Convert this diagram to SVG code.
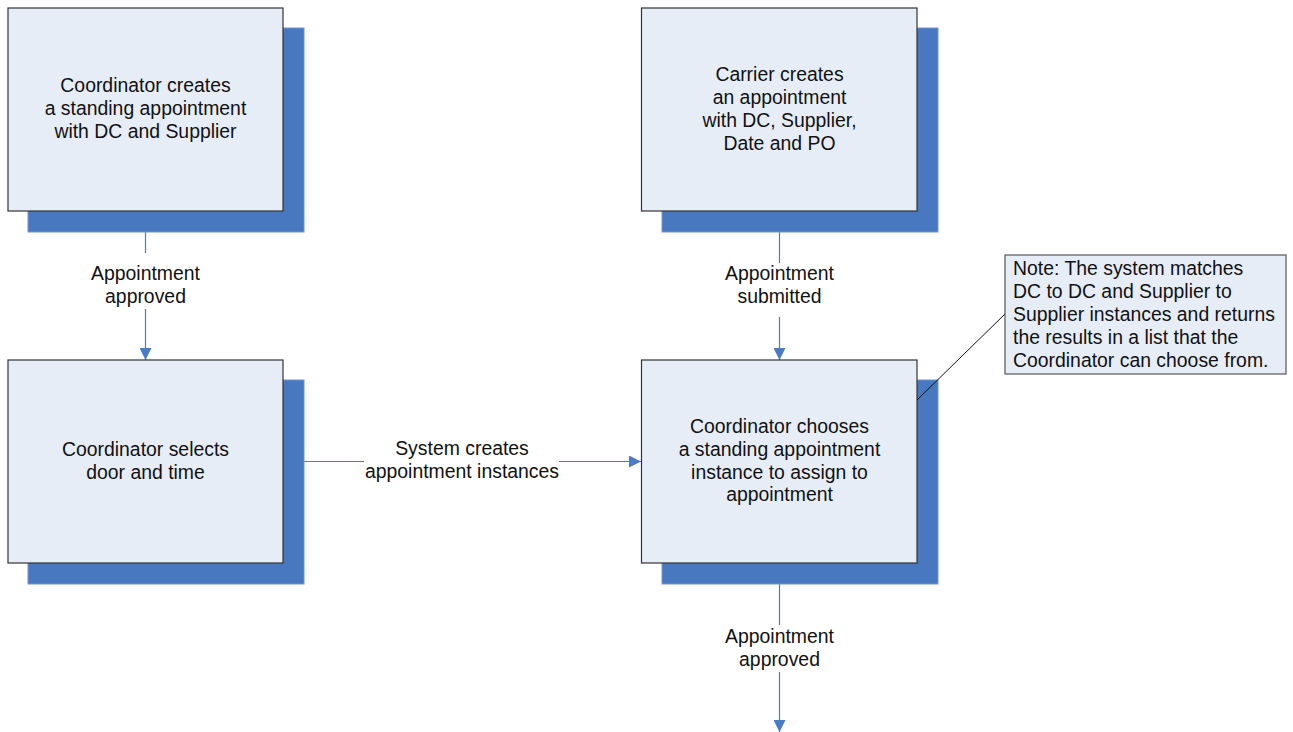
<svg xmlns="http://www.w3.org/2000/svg" width="1293" height="732" viewBox="0 0 1293 732">
<style>
.shadow{fill:#4878C0;stroke:#6F95CF;stroke-width:1}
.box{fill:#E7EDF7;stroke:#333333;stroke-width:1.2}
.note{fill:#E7EDF7;stroke:#555555;stroke-width:1.2}
text{font-family:"Liberation Sans",Arial,sans-serif;font-size:19.4px;fill:#111111}
.c{text-anchor:middle}
.conn{stroke:#4A7CC4;stroke-width:1.2;fill:none}
</style>
<defs>
<marker id="arr" viewBox="0 0 12 12" refX="12" refY="6" markerWidth="12" markerHeight="12" markerUnits="userSpaceOnUse" orient="auto">
<path d="M0,0 L12,6 L0,12 Z" fill="#4A7CC4"/>
</marker>
</defs>
<rect width="1293" height="732" fill="#FFFFFF"/>
<g id="connectors">
<path class="conn" d="M145.5,232 V253"/>
<path class="conn" d="M145.5,309 V360" marker-end="url(#arr)"/>
<path class="conn" d="M779.5,232 V263"/>
<path class="conn" d="M779.5,317 V360" marker-end="url(#arr)"/>
<path class="conn" d="M283,461.5 H364"/>
<path class="conn" d="M559,461.5 H641" marker-end="url(#arr)"/>
<path class="conn" d="M779.5,584 V625"/>
<path class="conn" d="M779.5,672 V732" marker-end="url(#arr)"/>
<text class="c" x="145.5" y="280">Appointment</text>
<text class="c" x="145.5" y="303">approved</text>
<text class="c" x="779.5" y="280">Appointment</text>
<text class="c" x="779.5" y="303">submitted</text>
<text class="c" x="462" y="455">System creates</text>
<text class="c" x="462" y="478">appointment instances</text>
<text class="c" x="779.5" y="643">Appointment</text>
<text class="c" x="779.5" y="666">approved</text>
</g>
<g id="node1">
<rect class="shadow" x="28" y="28" width="276" height="204"/>
<rect class="box" x="8" y="8" width="275" height="203"/>
<text class="c" x="145.5" y="92">Coordinator creates</text>
<text class="c" x="145.5" y="115">a standing appointment</text>
<text class="c" x="145.5" y="138">with DC and Supplier</text>
</g>
<g id="node2">
<rect class="shadow" x="662" y="28" width="276" height="204"/>
<rect class="box" x="641.5" y="8" width="275.5" height="203"/>
<text class="c" x="779.5" y="81">Carrier creates</text>
<text class="c" x="779.5" y="104">an appointment</text>
<text class="c" x="779.5" y="127">with DC, Supplier,</text>
<text class="c" x="779.5" y="150">Date and PO</text>
</g>
<g id="node3">
<rect class="shadow" x="28" y="380" width="276" height="204"/>
<rect class="box" x="8" y="360" width="275" height="203"/>
<text class="c" x="145.5" y="456">Coordinator selects</text>
<text class="c" x="145.5" y="479">door and time</text>
</g>
<g id="node4">
<rect class="shadow" x="662" y="380" width="276" height="204"/>
<rect class="box" x="641.5" y="360" width="275.5" height="203"/>
<text class="c" x="779.5" y="433">Coordinator chooses</text>
<text class="c" x="779.5" y="456">a standing appointment</text>
<text class="c" x="779.5" y="479">instance to assign to</text>
<text class="c" x="779.5" y="501">appointment</text>
</g>
<g id="note">
<line x1="917" y1="400" x2="1005" y2="314" stroke="#111111" stroke-width="1"/>
<rect class="note" x="1005" y="255" width="281" height="119"/>
<text x="1013" y="275">Note: The system matches</text>
<text x="1013" y="298">DC to DC and Supplier to</text>
<text x="1013" y="321">Supplier instances and returns</text>
<text x="1013" y="344">the results in a list that the</text>
<text x="1013" y="367">Coordinator can choose from.</text>
</g>
</svg>
